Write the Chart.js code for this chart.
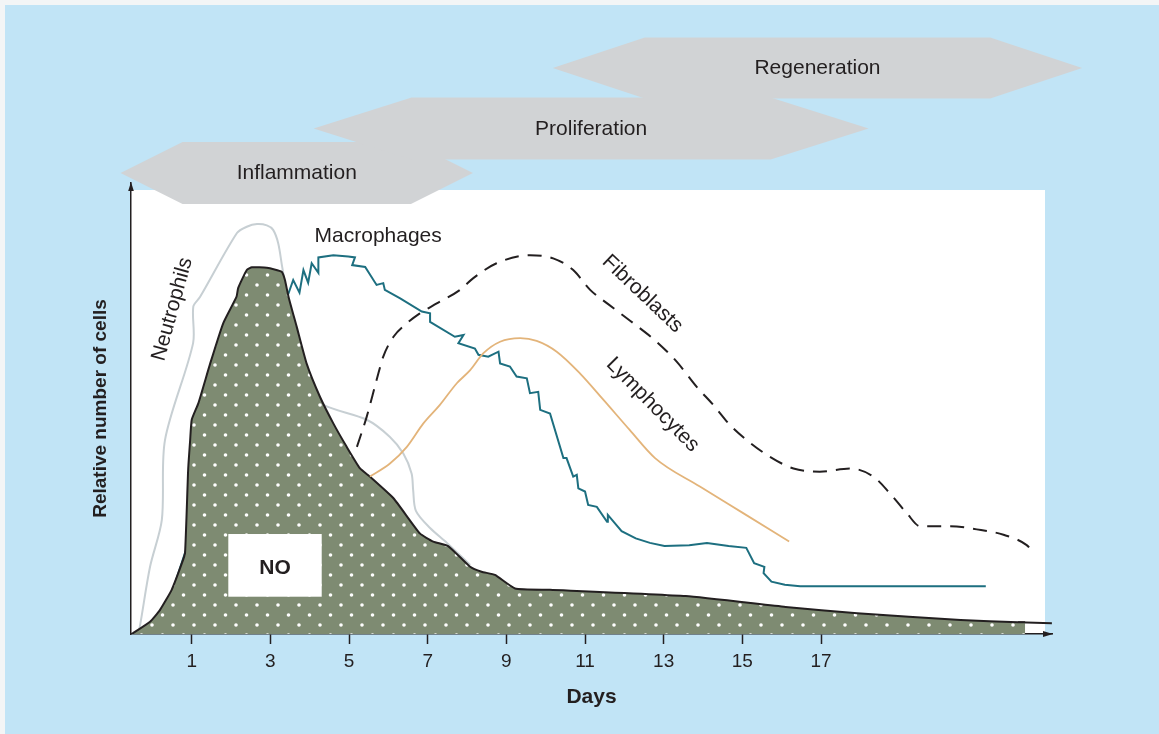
<!DOCTYPE html>
<html>
<head>
<meta charset="utf-8">
<title>Cell populations during wound healing</title>
<script src="https://cdn.jsdelivr.net/npm/chart.js@4.4.1/dist/chart.umd.min.js"></script>
<style>
  html, body { margin: 0; padding: 0; background: #fff; }
  canvas { display: block; }
</style>
</head>
<body>
<canvas id="woundChart" width="1159" height="734"></canvas>
<script>
// x axis tick labels (days)
const dayTicks = [1, 3, 5, 7, 9, 11, 13, 15, 17];

// series: day -> relative number of cells (0-100)
const noDays = [-0.54, -0.49, -0.06, 0.19, 0.49, 0.75, 0.83, 0.91, 0.96, 1.00, 1.17, 1.47, 1.80, 2.14, 2.18, 2.40, 2.53, 2.91, 3.29,
  3.37, 3.46, 3.67, 3.92, 4.26, 4.60, 4.94, 5.28, 5.53, 6.13, 6.80, 7.14, 7.52, 8.08, 8.37, 8.71, 9.22, 10.11,
  13.56, 16.10, 17.92, 20.55, 22.01, 22.19];
const noVals = [0, 0.2, 2.7, 5.3, 9.8, 15.7, 18.0, 36.6, 43.0, 47.5, 51.2, 60.0, 68.9, 74.8, 76.7, 80.7, 81.3, 81.2, 80.3,
  78.5, 74.8, 68.1, 60.0, 52.6, 46.7, 41.5, 36.7, 34.9, 30.1, 22.3, 20.5, 19.5, 14.9, 13.8, 13.1, 10.1, 9.8,
  8.4, 6.0, 4.6, 3.1, 2.6, 2.6];
const noTailDays = [22.01, 22.87];
const noTailVals = [2.6, 2.4];

const macDays = [0.52, 0.83, 2.23, 3.46, 3.58, 3.74, 3.84, 3.96, 4.05, 4.22, 4.22, 4.60, 4.98, 5.15, 5.08, 5.41, 5.70, 5.87, 5.91, 6.30,
  6.85, 7.06, 7.06, 7.69, 7.91, 7.78, 8.20, 8.29, 8.54, 8.80, 8.84, 9.09, 9.26, 9.52, 9.60, 9.81, 9.86, 10.11, 10.45, 10.53,
  10.70, 10.79, 10.83, 11.00, 11.08, 11.30, 11.56, 11.58, 11.93, 12.29, 12.65, 13.02, 13.65, 14.10, 14.65, 15.10, 15.30, 15.56, 15.54, 15.74,
  16.08, 16.47, 21.19];
const macVals = [9.8, 18.0, 51.9, 75.5, 78.5, 75.7, 80.7, 77.9, 82.2, 80.1, 83.5, 84.0, 83.7, 83.5, 81.8, 81.4, 77.4, 77.8, 76.3, 74.4,
  71.5, 71.1, 69.2, 65.9, 66.3, 64.5, 63.3, 61.9, 61.5, 62.6, 60.0, 59.3, 57.1, 56.7, 53.4, 53.7, 49.7, 48.9, 39.0, 39.0,
  34.9, 35.3, 32.3, 31.6, 28.6, 28.2, 24.9, 26.4, 22.8, 21.2, 20.2, 19.5, 19.7, 20.2, 19.5, 19.1, 15.7, 14.9, 13.5, 11.6,
  10.9, 10.6, 10.6];

const lymDays = [5.53, 6.04, 6.47, 6.89, 7.31, 7.74, 8.08, 8.41, 8.84, 9.35, 9.77, 10.28, 10.87, 11.47, 12.14, 12.78, 13.92, 15.02, 16.19];
const lymVals = [34.9, 37.8, 41.5, 46.7, 50.8, 55.6, 58.5, 62.2, 64.8, 65.6, 65.0, 62.6, 57.8, 51.9, 45.2, 39.0, 32.7, 26.8, 20.5];

const fibDays = [5.20, 5.45, 5.70, 5.87, 6.13, 6.47, 6.80, 7.23, 7.82, 8.16, 8.75, 9.60, 10.19, 10.70, 11.13, 11.58, 12.23, 12.82, 13.33, 13.84,
  14.26, 14.69, 15.11, 15.70, 16.30, 16.97, 17.74, 18.33, 18.75, 19.18, 19.52, 20.28, 20.96, 21.64, 22.23, 22.41];
const fibVals = [41.5, 48.2, 56.3, 61.5, 65.9, 68.9, 71.1, 73.3, 76.3, 78.9, 82.2, 84.0, 83.3, 80.7, 76.3, 73.2, 68.9, 64.8, 60.4, 54.8,
  50.8, 46.3, 43.0, 39.3, 36.7, 36.0, 36.7, 34.9, 31.2, 26.8, 23.9, 23.9, 23.2, 22.0, 19.7, 18.0];

const neuDays = [-0.37, -0.32, -0.06, 0.24, 0.32, 1.035, 1.04, 1.21, 2.15, 2.40, 2.66, 2.91, 3.07, 3.20, 3.30, 3.50, 4.01, 4.35,
  5.45, 6.04, 6.38, 6.59, 6.63, 6.70, 7.06, 7.49, 8.08];
const neuVals = [0, 1.6, 14.9, 25.3, 43.0, 64.5, 72.6, 74.7, 88.9, 90.3, 90.9, 90.6, 89.6, 86.6, 81.4, 71.8, 54.1, 50.8,
  47.5, 43.7, 40.0, 35.6, 31.9, 27.3, 23.5, 20.2, 15.3];

// healing phases shown as banners above the plot (days)
const phaseNames = ['Inflammation', 'Proliferation', 'Regeneration'];
const phaseFrom = [-0.81, 4.10, 10.18];
const phaseTo = [8.15, 18.21, 23.64];

// curve labels (day, value, rotation)
const curveLabels = ['Neutrophils', 'Macrophages', 'Fibroblasts', 'Lymphocytes'];
const labelDay = [0.51, 5.74, 12.46, 12.72];
const labelVal = [72.0, 88.2, 75.4, 50.8];
const labelAngle = [-74.6, 0, 43.5, 45.5];

// NO box corners (day, value)
const noBoxDays = [1.93, 4.305];
const noBoxVals = [22.17, 8.27];

const ink = '#231f20';
const fontFam = '"Liberation Sans", Arial, Helvetica, sans-serif';
Chart.defaults.font.family = fontFam;

// banner layout in pixels: vertical centre, half height, pointed end length
const bannerY = [173, 128.5, 68];
const bannerHalf = [31, 31, 30.5];
const bannerTip = [62, 98, 92];

function pts(days, vals) { return days.map((d, i) => ({ x: d, y: vals[i] })); }

const canvas = document.getElementById('woundChart');

// green with white dots for the NO area
const dots = (() => {
  const c = document.createElement('canvas');
  c.width = 21; c.height = 20;
  const g = c.getContext('2d');
  g.fillStyle = '#7e8b72';
  g.fillRect(0, 0, 21, 20);
  g.fillStyle = '#ffffff';
  [[5, 5], [15.5, 15]].forEach(([px, py]) => { g.beginPath(); g.arc(px, py, 1.8, 0, Math.PI * 2); g.fill(); });
  return canvas.getContext('2d').createPattern(c, 'repeat');
})();

function drawText(ctx, text, px, py, deg, font) {
  ctx.save();
  ctx.translate(px, py);
  ctx.rotate(deg * Math.PI / 180);
  ctx.font = font;
  ctx.fillStyle = ink;
  ctx.textAlign = 'center';
  ctx.textBaseline = 'middle';
  ctx.fillText(text, 0, 0);
  ctx.restore();
}

// background, white panel and phase banners
const backdrop = {
  id: 'backdrop',
  beforeDraw(chart) {
    const { ctx, chartArea, scales: { x } } = chart;
    ctx.save();
    ctx.fillStyle = '#f3f5f6';
    ctx.fillRect(0, 0, chart.width, chart.height);
    ctx.fillStyle = '#c1e4f6';
    ctx.fillRect(5, 5, chart.width - 5, chart.height - 5);
    ctx.fillStyle = '#ffffff';
    ctx.fillRect(chartArea.left, 190, 1045 - chartArea.left, chartArea.bottom - 190);

    ctx.fillStyle = '#d1d3d5';
    phaseNames.forEach((name, i) => {
      const a = x.getPixelForValue(phaseFrom[i]);
      const b = x.getPixelForValue(phaseTo[i]);
      const cy = bannerY[i], h = bannerHalf[i], t = bannerTip[i];
      ctx.beginPath();
      ctx.moveTo(a, cy);
      ctx.lineTo(a + t, cy - h);
      ctx.lineTo(b - t, cy - h);
      ctx.lineTo(b, cy);
      ctx.lineTo(b - t, cy + h);
      ctx.lineTo(a + t, cy + h);
      ctx.closePath();
      ctx.fill();
    });
    phaseNames.forEach((name, i) => {
      const mid = (x.getPixelForValue(phaseFrom[i]) + x.getPixelForValue(phaseTo[i])) / 2;
      drawText(ctx, name, mid, bannerY[i] + 0.5, 0, '21px ' + fontFam);
    });
    ctx.restore();
  }
};

// NO box, curve names and axis arrowheads
const overlay = {
  id: 'overlay',
  afterDatasetsDraw(chart) {
    const { ctx, chartArea, scales: { x, y } } = chart;
    ctx.save();
    const bx0 = x.getPixelForValue(noBoxDays[0]), bx1 = x.getPixelForValue(noBoxDays[1]);
    const by0 = y.getPixelForValue(noBoxVals[0]), by1 = y.getPixelForValue(noBoxVals[1]);
    ctx.fillStyle = '#ffffff';
    ctx.fillRect(bx0, by0, bx1 - bx0, by1 - by0);
    drawText(ctx, 'NO', (bx0 + bx1) / 2, (by0 + by1) / 2 + 3, 0, 'bold 21px ' + fontFam);

    curveLabels.forEach((t, i) => {
      drawText(ctx, t, x.getPixelForValue(labelDay[i]), y.getPixelForValue(labelVal[i]), labelAngle[i], '21px ' + fontFam);
    });

    ctx.fillStyle = ink;
    const l = chartArea.left, tp = chartArea.top, r = chartArea.right, bt = chartArea.bottom;
    ctx.beginPath();
    ctx.moveTo(l, tp - 1); ctx.lineTo(l - 2.8, tp + 8); ctx.lineTo(l + 2.8, tp + 8); ctx.closePath();
    ctx.fill();
    ctx.beginPath();
    ctx.moveTo(r + 1, bt); ctx.lineTo(r - 9, bt - 3); ctx.lineTo(r - 9, bt + 3); ctx.closePath();
    ctx.fill();
    ctx.restore();
  }
};

const common = { pointRadius: 0, pointHoverRadius: 0, fill: false };

new Chart(canvas, {
  type: 'line',
  data: {
    datasets: [
      { ...common, label: 'Lymphocytes', data: pts(lymDays, lymVals), borderColor: '#e3b47a', borderWidth: 1.8, cubicInterpolationMode: 'monotone', order: 0 },
      { ...common, label: 'Fibroblasts', data: pts(fibDays, fibVals), borderColor: ink, borderWidth: 2, borderDash: [14, 9], cubicInterpolationMode: 'monotone', order: 0 },
      { ...common, label: 'NO', data: pts(noDays, noVals), borderColor: ink, borderWidth: 2, backgroundColor: dots, fill: 'origin', tension: 0.15, order: 1 },
      { ...common, label: 'NO tail', data: pts(noTailDays, noTailVals), borderColor: ink, borderWidth: 2, order: 1 },
      { ...common, label: 'Macrophages', data: pts(macDays, macVals), borderColor: '#1d6f80', borderWidth: 2, tension: 0, order: 2 },
      { ...common, label: 'Neutrophils', data: pts(neuDays, neuVals), borderColor: '#c7cfd3', borderWidth: 2, tension: 0.3, order: 3 }
    ]
  },
  options: {
    responsive: false,
    animation: false,
    devicePixelRatio: 1,
    events: [],
    layout: { padding: { top: 183, right: 107, bottom: 20.4, left: 84.6 } },
    plugins: { legend: { display: false }, tooltip: { enabled: false } },
    scales: {
      x: {
        type: 'linear',
        min: -0.544,
        max: 22.873,
        afterBuildTicks: axis => { axis.ticks = dayTicks.map(v => ({ value: v })); },
        ticks: { color: ink, font: { size: 19 }, padding: 6, autoSkip: false, maxRotation: 0, callback: v => String(v) },
        grid: { drawOnChartArea: false, tickLength: 10, tickWidth: 1.5, tickColor: ink },
        border: { color: ink, width: 1.5 },
        title: { display: true, text: 'Days', color: ink, font: { size: 21, weight: 'bold' }, padding: { top: 5.6, bottom: 4 } }
      },
      y: {
        min: 0,
        max: 100,
        ticks: { display: false },
        grid: { display: false, drawTicks: false },
        border: { color: ink, width: 1.5 },
        title: { display: true, text: 'Relative number of cells', color: ink, font: { size: 19, weight: 'bold' }, padding: { top: 5, bottom: 18.6 } }
      }
    }
  },
  plugins: [backdrop, overlay]
});
</script>
</body>
</html>
